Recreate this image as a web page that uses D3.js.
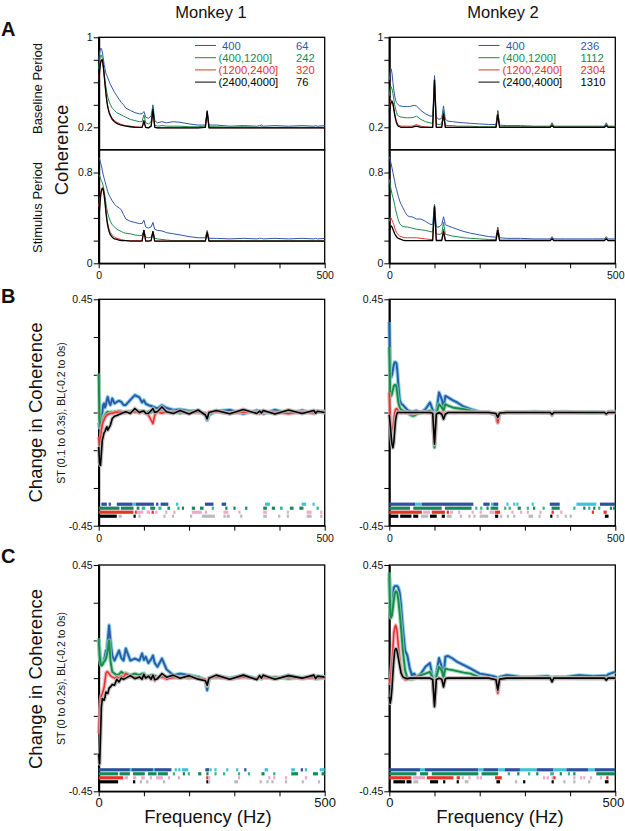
<!DOCTYPE html>
<html>
<head>
<meta charset="utf-8">
<script src="https://cdn.jsdelivr.net/npm/d3@7"></script>
<style>
body { margin: 0; background: #fff; }
svg text { font-family: Arial, "Liberation Sans", Helvetica, sans-serif; }
</style>
</head>
<body>
<svg id="chart" width="625" height="831"></svg>
<script>
////////////////////////////////////////////////////////////
//// Data //////////////////////////////////////////////////
////////////////////////////////////////////////////////////
const freqs = [0,2,4,6,8,10,12,14,16,18,
	20,23,26,30,35,40,45,50,55,60,
	70,80,90,96,100,104,110,116,120,124,
	130,140,150,165,180,200,220,236,240,244,
	260,290,320,350,356,360,364,390,420,450,
	476,480,484,500];

const legendLabels = ["400", "(400,1200]", "(1200,2400]", "(2400,4000]"];
const countsM1 = [64, 242, 320, 76];
const countsM2 = [236, 1112, 2304, 1310];

// coherence, monkey 1, baseline period (blue, green, red, black)
const baseM1 = [
	[0.80,0.86,0.90,0.90,0.87,0.82,0.76,0.72,0.68,0.66,0.64,0.61,0.58,0.55,0.51,0.48,0.45,0.42,0.40,0.37,0.35,0.33,0.32,0.32,0.34,0.29,0.28,0.30,0.40,0.26,0.24,0.25,0.24,0.25,0.245,0.23,0.22,0.22,0.35,0.22,0.22,0.21,0.215,0.21,0.215,0.22,0.21,0.215,0.21,0.215,0.21,0.215,0.21,0.215],
	[0.72,0.80,0.84,0.84,0.81,0.75,0.68,0.62,0.56,0.51,0.47,0.43,0.40,0.37,0.35,0.33,0.32,0.31,0.30,0.29,0.27,0.26,0.25,0.25,0.31,0.24,0.23,0.25,0.38,0.22,0.21,0.215,0.21,0.21,0.21,0.205,0.205,0.21,0.34,0.205,0.205,0.2,0.205,0.2,0.2,0.205,0.2,0.2,0.2,0.2,0.2,0.2,0.2,0.2],
	[0.62,0.72,0.78,0.80,0.79,0.74,0.66,0.58,0.50,0.44,0.39,0.34,0.31,0.28,0.26,0.245,0.235,0.225,0.22,0.215,0.21,0.205,0.2,0.2,0.24,0.2,0.195,0.21,0.33,0.2,0.195,0.195,0.195,0.195,0.195,0.195,0.195,0.2,0.33,0.195,0.195,0.195,0.195,0.195,0.195,0.195,0.195,0.195,0.195,0.195,0.195,0.195,0.195,0.195],
	[0.58,0.70,0.77,0.80,0.80,0.75,0.67,0.58,0.50,0.43,0.38,0.33,0.30,0.27,0.25,0.235,0.225,0.22,0.215,0.21,0.205,0.2,0.2,0.2,0.26,0.2,0.195,0.21,0.36,0.2,0.195,0.195,0.195,0.195,0.195,0.195,0.195,0.2,0.34,0.195,0.195,0.195,0.195,0.195,0.195,0.195,0.195,0.195,0.195,0.195,0.195,0.195,0.195,0.195]
];
// coherence, monkey 1, stimulus period
const stimM1 = [
	[0.93,0.92,0.89,0.86,0.82,0.78,0.75,0.72,0.69,0.66,0.63,0.60,0.58,0.55,0.52,0.50,0.49,0.47,0.43,0.39,0.37,0.36,0.35,0.35,0.38,0.32,0.31,0.32,0.36,0.30,0.29,0.285,0.27,0.26,0.25,0.235,0.225,0.225,0.29,0.22,0.22,0.215,0.22,0.215,0.22,0.22,0.215,0.22,0.215,0.22,0.215,0.22,0.215,0.22],
	[0.78,0.77,0.75,0.73,0.71,0.68,0.64,0.59,0.53,0.48,0.44,0.40,0.37,0.34,0.32,0.30,0.29,0.28,0.27,0.265,0.26,0.25,0.245,0.245,0.29,0.23,0.225,0.23,0.28,0.22,0.215,0.21,0.205,0.2,0.2,0.2,0.2,0.2,0.28,0.2,0.2,0.2,0.2,0.2,0.2,0.2,0.2,0.2,0.2,0.2,0.2,0.2,0.2,0.2],
	[0.50,0.55,0.61,0.65,0.67,0.66,0.62,0.55,0.47,0.40,0.35,0.30,0.27,0.25,0.23,0.22,0.215,0.21,0.205,0.2,0.2,0.2,0.2,0.2,0.29,0.2,0.195,0.2,0.28,0.195,0.195,0.195,0.195,0.195,0.195,0.195,0.195,0.195,0.28,0.195,0.195,0.195,0.195,0.195,0.195,0.195,0.195,0.195,0.195,0.195,0.195,0.195,0.195,0.195],
	[0.38,0.48,0.58,0.64,0.66,0.65,0.60,0.53,0.45,0.38,0.33,0.28,0.25,0.23,0.215,0.21,0.205,0.2,0.2,0.2,0.195,0.195,0.195,0.195,0.29,0.195,0.195,0.2,0.28,0.195,0.195,0.195,0.195,0.195,0.195,0.195,0.195,0.195,0.27,0.195,0.195,0.195,0.195,0.195,0.195,0.195,0.195,0.195,0.195,0.195,0.195,0.195,0.195,0.195]
];
// coherence, monkey 2, baseline period
const baseM2 = [
	[0.62,0.70,0.72,0.68,0.60,0.53,0.48,0.44,0.42,0.41,0.40,0.39,0.39,0.385,0.385,0.385,0.385,0.39,0.395,0.39,0.35,0.32,0.30,0.30,0.66,0.29,0.27,0.28,0.39,0.27,0.255,0.25,0.245,0.24,0.235,0.23,0.225,0.225,0.35,0.22,0.215,0.215,0.21,0.21,0.21,0.24,0.21,0.21,0.21,0.21,0.21,0.24,0.21,0.21],
	[0.48,0.54,0.56,0.54,0.50,0.45,0.40,0.36,0.33,0.31,0.30,0.295,0.29,0.29,0.285,0.285,0.285,0.285,0.29,0.30,0.27,0.25,0.24,0.235,0.63,0.23,0.225,0.23,0.35,0.22,0.215,0.215,0.21,0.21,0.21,0.205,0.205,0.205,0.34,0.205,0.205,0.205,0.205,0.205,0.205,0.23,0.205,0.205,0.205,0.205,0.205,0.23,0.205,0.205],
	[0.36,0.41,0.44,0.44,0.42,0.37,0.32,0.28,0.25,0.23,0.22,0.215,0.21,0.21,0.21,0.21,0.21,0.21,0.215,0.225,0.21,0.205,0.2,0.2,0.60,0.2,0.2,0.205,0.33,0.2,0.2,0.2,0.2,0.2,0.2,0.2,0.2,0.2,0.33,0.2,0.2,0.2,0.2,0.2,0.2,0.22,0.2,0.2,0.2,0.2,0.2,0.22,0.2,0.2],
	[0.33,0.39,0.42,0.43,0.41,0.36,0.31,0.27,0.24,0.22,0.21,0.205,0.2,0.2,0.2,0.2,0.2,0.2,0.205,0.21,0.2,0.2,0.2,0.2,0.62,0.2,0.2,0.2,0.32,0.2,0.2,0.2,0.2,0.2,0.2,0.2,0.2,0.2,0.31,0.2,0.2,0.2,0.2,0.2,0.2,0.215,0.2,0.2,0.2,0.2,0.2,0.215,0.2,0.2]
];
// coherence, monkey 2, stimulus period
const stimM2 = [
	[0.94,0.91,0.88,0.84,0.80,0.76,0.72,0.68,0.65,0.62,0.59,0.55,0.52,0.49,0.45,0.42,0.41,0.41,0.40,0.39,0.39,0.37,0.345,0.34,0.52,0.32,0.32,0.34,0.41,0.34,0.33,0.315,0.30,0.28,0.265,0.25,0.235,0.23,0.32,0.225,0.22,0.22,0.215,0.215,0.215,0.235,0.215,0.215,0.215,0.215,0.215,0.235,0.215,0.215],
	[0.74,0.69,0.65,0.61,0.58,0.55,0.51,0.47,0.44,0.41,0.38,0.35,0.335,0.325,0.32,0.32,0.315,0.31,0.305,0.30,0.295,0.29,0.28,0.275,0.52,0.26,0.255,0.26,0.36,0.255,0.25,0.24,0.235,0.225,0.22,0.215,0.21,0.21,0.30,0.205,0.205,0.205,0.205,0.205,0.205,0.225,0.205,0.205,0.205,0.205,0.205,0.225,0.205,0.205],
	[0.37,0.40,0.40,0.38,0.36,0.34,0.31,0.29,0.27,0.26,0.25,0.24,0.235,0.23,0.225,0.225,0.225,0.225,0.225,0.225,0.22,0.215,0.21,0.21,0.50,0.205,0.205,0.205,0.30,0.2,0.2,0.2,0.2,0.2,0.2,0.2,0.2,0.2,0.31,0.2,0.2,0.2,0.2,0.2,0.2,0.22,0.2,0.2,0.2,0.2,0.2,0.22,0.2,0.2],
	[0.29,0.32,0.33,0.32,0.30,0.28,0.26,0.245,0.235,0.225,0.22,0.215,0.21,0.205,0.2,0.2,0.2,0.2,0.2,0.2,0.2,0.2,0.2,0.2,0.50,0.2,0.2,0.2,0.28,0.2,0.2,0.2,0.2,0.2,0.2,0.2,0.2,0.2,0.29,0.2,0.2,0.2,0.2,0.2,0.2,0.215,0.2,0.2,0.2,0.2,0.2,0.215,0.2,0.2]
];
// change in coherence, ST (0.1 to 0.3s) - BL
const changeB1 = [
	[-0.04,-0.06,-0.05,-0.01,0.0,0.03,0.036,0.02,0.03,0.05,0.062,0.04,0.03,0.056,0.036,0.042,0.046,0.042,0.03,0.03,0.05,0.069,0.06,0.04,0.049,0.035,0.029,0.026,0.023,0.02,0.016,0.029,0.018,0.01,0.012,0.006,0.007,-0.01,-0.03,-0.01,0.005,0.01,-0.005,0.008,-0.004,0.006,-0.005,0.01,-0.004,0.008,-0.004,0.006,0.004,0.005],
	[0.155,-0.03,-0.057,-0.045,-0.035,-0.025,-0.017,-0.01,-0.004,0.0,0.003,-0.002,0.002,0.0,0.004,0.003,0.006,0.004,-0.002,0.003,0.005,0.001,0.006,0.003,0.005,-0.002,0.004,0.0,0.006,0.002,0.005,0.004,0.0,0.005,-0.003,0.004,0.0,-0.004,-0.015,0.0,0.004,-0.003,0.005,0.0,-0.003,0.002,0.004,-0.003,0.003,0.0,0.004,-0.002,0.002,0.0],
	[-0.097,-0.13,-0.11,-0.07,-0.05,-0.035,-0.03,-0.02,-0.015,-0.01,-0.008,-0.005,-0.004,-0.004,0.0,0.002,0.0,0.003,-0.003,0.0,0.002,0.004,-0.002,0.002,0.0,-0.003,-0.01,-0.03,-0.044,-0.01,0.002,-0.003,0.003,0.0,0.004,-0.003,0.002,-0.003,-0.02,0.0,0.003,-0.004,0.002,0.0,0.003,-0.003,0.002,0.0,-0.004,0.002,-0.002,0.0,0.003,0.0],
	[-0.137,-0.20,-0.21,-0.16,-0.11,-0.095,-0.08,-0.075,-0.065,-0.057,-0.07,-0.06,-0.05,-0.024,-0.015,-0.012,-0.008,-0.004,0.0,0.003,-0.004,0.016,0.0,0.005,0.006,-0.003,-0.004,0.008,0.016,0.0,0.004,0.022,0.003,-0.004,0.008,-0.006,0.01,-0.01,-0.025,0.0,0.008,-0.005,0.012,-0.004,0.006,-0.002,0.008,-0.006,0.01,-0.004,0.008,-0.003,0.005,0.0]
];
const changeB2 = [
	[0.36,0.16,0.14,0.15,0.17,0.19,0.2,0.2,0.195,0.16,0.11,0.05,0.035,0.03,0.02,0.01,0.005,0.002,0.004,0.007,0.0,0.013,0.04,0.01,-0.06,0.0,0.08,0.053,0.02,0.066,0.06,0.049,0.04,0.023,0.013,0.002,0.0,-0.01,-0.04,-0.005,0.002,0.0,0.003,0.001,0.0,-0.01,0.002,0.003,0.001,0.002,0.0,-0.005,0.003,0.004],
	[0.26,0.08,0.065,0.075,0.09,0.105,0.11,0.11,0.1,0.07,0.04,0.02,0.012,0.008,0.003,0.0,-0.008,-0.013,-0.013,-0.007,0.0,0.003,0.007,0.0,-0.139,-0.007,0.033,0.02,0.007,0.033,0.027,0.02,0.017,0.013,0.007,0.0,0.0,-0.005,-0.027,-0.003,0.0,0.002,0.0,-0.002,0.0,-0.005,0.0,0.002,0.0,-0.002,0.0,-0.004,0.0,0.002],
	[0.08,-0.03,-0.06,-0.07,-0.06,-0.03,0.0,0.012,0.015,0.012,0.005,0.0,-0.002,0.0,-0.002,0.0,-0.003,-0.004,-0.003,0.0,0.0,0.0,-0.002,-0.004,-0.126,-0.006,0.0,0.0,-0.013,0.0,0.0,0.0,0.0,0.0,0.0,0.0,0.0,-0.005,-0.04,-0.003,0.0,0.0,0.0,0.0,0.0,-0.008,0.0,0.0,0.0,0.0,0.0,-0.006,0.0,0.0],
	[-0.01,-0.05,-0.09,-0.125,-0.14,-0.12,-0.07,-0.03,-0.01,0.0,0.0,0.0,0.0,0.0,0.0,0.0,0.0,0.0,0.0,0.0,0.0,0.0,0.0,-0.003,-0.126,-0.007,0.0,-0.007,-0.027,-0.007,0.0,0.0,0.0,0.0,0.0,0.0,0.0,-0.004,-0.02,-0.002,0.0,0.0,0.0,0.0,0.0,-0.008,0.0,0.0,0.0,0.0,0.0,-0.006,0.0,0.0]
];
// change in coherence, ST (0 to 0.2s) - BL
const changeC1 = [
	[0.151,0.11,0.072,0.06,0.058,0.06,0.072,0.09,0.11,0.11,0.15,0.21,0.15,0.09,0.07,0.09,0.11,0.08,0.07,0.118,0.07,0.078,0.07,0.098,0.072,0.085,0.06,0.075,0.09,0.06,0.045,0.078,0.035,0.012,0.018,0.012,0.005,-0.01,-0.048,0.0,0.01,0.0,0.012,-0.003,0.008,0.0,0.01,-0.004,0.012,0.0,0.01,-0.002,0.008,0.005],
	[0.158,0.09,0.058,0.05,0.052,0.06,0.065,0.07,0.078,0.09,0.11,0.15,0.07,0.025,0.018,0.012,0.015,0.025,0.018,0.019,0.012,0.018,0.012,0.018,0.019,0.01,0.008,0.012,0.005,0.01,0.004,0.003,0.006,0.002,0.005,0.0,0.004,-0.006,-0.03,0.0,0.003,-0.002,0.004,0.0,0.003,-0.003,0.002,0.004,-0.002,0.003,0.0,0.004,-0.002,0.002],
	[-0.22,-0.16,-0.088,-0.07,-0.061,-0.05,-0.035,-0.01,0.019,0.025,0.025,0.018,0.01,0.005,0.0,0.005,0.0,0.008,0.002,0.019,0.005,0.005,0.0,0.006,0.01,0.0,0.005,-0.005,0.004,-0.01,0.003,0.006,-0.004,0.004,0.0,0.006,-0.003,-0.005,-0.03,0.0,0.006,-0.004,0.005,-0.003,0.004,0.0,0.004,-0.003,0.006,-0.002,0.004,0.0,0.003,0.0],
	[-0.30,-0.34,-0.234,-0.114,-0.081,-0.085,-0.088,-0.075,-0.055,-0.06,-0.061,-0.04,-0.035,-0.025,-0.028,-0.005,-0.015,0.0,-0.005,0.0,0.01,-0.002,0.005,-0.004,0.015,0.0,0.008,-0.004,0.012,-0.006,-0.002,0.018,0.004,0.012,0.0,0.01,-0.004,-0.01,-0.028,0.0,0.012,-0.004,0.012,-0.006,0.01,0.0,0.012,-0.004,0.01,0.0,0.012,-0.002,0.008,0.004]
];
const changeC2 = [
	[0.40,0.30,0.265,0.28,0.32,0.36,0.366,0.366,0.366,0.366,0.36,0.34,0.29,0.20,0.11,0.09,0.04,0.012,0.018,0.005,0.018,0.045,0.06,0.0,-0.088,0.018,0.08,0.045,0.005,0.085,0.088,0.078,0.065,0.052,0.038,0.018,0.012,0.005,-0.015,0.005,0.012,0.005,0.005,0.008,0.005,-0.008,0.005,0.005,0.012,0.008,0.01,0.005,0.015,0.025],
	[0.42,0.26,0.24,0.25,0.28,0.31,0.335,0.345,0.345,0.335,0.31,0.26,0.2,0.11,0.03,0.0,-0.004,-0.005,-0.002,0.005,0.012,0.018,0.025,0.0,-0.074,0.005,0.045,0.03,0.005,0.038,0.035,0.032,0.028,0.022,0.018,0.003,0.0,-0.005,-0.035,0.0,0.0,0.0,0.002,0.0,0.0,-0.005,0.0,0.002,0.0,0.0,0.0,0.0,0.002,0.004],
	[0.0,-0.02,0.02,0.06,0.12,0.18,0.2,0.21,0.2,0.17,0.13,0.08,0.03,0.005,-0.006,-0.005,-0.003,0.0,0.0,0.003,0.0,0.0,0.0,-0.005,-0.10,-0.005,0.0,-0.004,-0.022,-0.003,0.0,0.0,0.0,0.0,0.0,0.0,0.0,-0.005,-0.06,-0.004,0.0,0.0,0.0,0.0,0.0,-0.008,0.0,0.0,0.0,0.0,0.0,-0.005,0.0,0.0],
	[-0.074,-0.10,-0.08,-0.04,0.02,0.07,0.11,0.118,0.115,0.1,0.08,0.05,0.02,0.005,0.0,-0.002,0.0,0.0,0.0,0.0,0.0,0.0,0.0,-0.005,-0.114,-0.005,0.0,-0.004,-0.035,-0.002,0.0,0.0,0.0,0.0,0.0,0.0,0.0,-0.006,-0.048,-0.004,0.0,0.0,0.0,0.0,0.0,-0.015,0.0,0.0,0.0,0.0,0.0,-0.008,0.0,0.0]
];

// significance bins per row: [fromHz, toHz, level] (1 = strong, 2 = weak)
const sigB1 = [
	[[6,18,1],[22,27,1],[40,75,1],[76,82,2],[82,122,1],[127,132,1],[137,154,1],[171,176,2],[235,254,1],[272,282,1],[368,379,2],[449,459,2],[473,477,2]],
	[[0,46,1],[49,77,1],[84,90,1],[95,103,2],[114,125,1],[132,139,2],[152,158,1],[174,178,2],[184,188,1],[206,213,1],[224,232,1],[250,254,2],[280,284,1],[298,302,1],[324,328,1],[364,372,1],[383,390,1],[401,407,2],[423,431,1],[444,453,1],[482,486,2]],
	[[0,77,1],[80,84,1],[84,99,2],[106,114,2],[117,121,1],[125,128,2],[147,151,2],[165,169,2],[206,228,2],[235,239,2],[276,287,2],[309,313,2],[364,372,2],[416,420,2],[460,471,2],[490,494,2]],
	[[0,40,1],[44,51,2],[77,80,1],[88,92,2],[143,147,2],[162,166,2],[202,206,2],[228,257,2],[276,280,2],[283,290,2],[313,317,2],[364,372,2],[397,401,2],[416,420,2],[460,471,2],[490,494,2]]
];
const sigB2 = [
	[[0,57,1],[57,70,2],[71,186,1],[208,222,1],[225,229,2],[230,241,1],[259,263,2],[274,278,2],[281,285,2],[315,319,2],[355,377,1],[414,458,2],[466,500,1]],
	[[0,46,1],[53,116,1],[123,182,1],[190,194,2],[201,205,2],[215,219,1],[224,241,1],[254,258,2],[264,268,2],[284,291,1],[304,308,2],[318,322,1],[339,343,2],[359,377,1],[407,411,2],[429,433,1],[440,444,2],[451,455,1],[462,466,2],[488,492,1],[495,500,1]],
	[[0,72,1],[75,90,2],[94,123,1],[127,131,1],[134,141,2],[152,156,2],[182,186,2],[200,204,2],[222,233,2],[234,245,1],[270,274,2],[289,293,2],[304,308,2],[332,336,2],[359,363,1],[378,382,2],[448,452,1],[474,481,1]],
	[[0,20,1],[24,49,1],[53,64,1],[70,86,2],[90,105,1],[116,123,1],[127,138,2],[156,160,2],[175,179,2],[186,190,2],[200,219,2],[234,241,1],[245,249,2],[260,264,2],[274,278,2],[308,318,2],[330,334,2],[356,360,1],[370,374,2],[388,392,2],[399,403,2],[477,485,1]]
];
const sigC1 = [
	[[0,69,1],[69,73,2],[73,120,1],[120,124,2],[124,161,1],[168,172,2],[176,180,2],[184,198,2],[236,244,1],[245,249,2],[256,260,2],[282,286,2],[304,308,2],[322,326,1],[367,375,2],[426,434,2],[447,451,1],[456,460,2],[489,500,2]],
	[[0,43,1],[46,69,1],[76,102,1],[109,128,1],[131,153,1],[164,168,2],[186,190,1],[197,201,2],[220,227,1],[238,243,1],[256,260,2],[275,279,2],[308,312,2],[330,334,2],[360,367,1],[386,390,2],[426,441,1],[474,485,1],[493,500,1]],
	[[0,54,1],[57,65,2],[76,83,2],[94,102,2],[113,117,2],[127,142,2],[153,157,2],[175,179,2],[238,242,1],[242,246,2],[308,312,2],[375,379,2],[386,390,2],[412,416,2],[456,460,2]],
	[[0,43,1],[76,80,1],[91,95,2],[105,109,2],[142,147,2],[238,242,1],[242,246,2],[300,308,2],[356,360,2],[371,375,2],[382,386,2],[412,416,2],[449,453,2],[485,489,2]]
];
const sigC2 = [
	[[0,68,1],[68,79,2],[79,197,1],[197,208,2],[208,241,1],[241,256,2],[256,289,1],[289,326,2],[326,363,1],[363,392,2],[392,440,1],[440,455,2],[455,500,1]],
	[[0,60,1],[68,86,1],[94,197,1],[204,241,1],[262,266,2],[283,287,1],[307,311,2],[325,329,1],[356,364,2],[377,381,1],[395,399,2],[407,411,1],[458,500,1]],
	[[0,49,1],[52,79,2],[83,142,1],[149,156,1],[160,164,2],[175,179,2],[193,197,2],[200,204,2],[234,249,1],[340,344,2],[348,352,2],[359,363,2],[363,367,1],[407,411,2],[422,426,2],[429,433,2],[444,448,2],[466,470,2],[480,484,1]],
	[[9,35,1],[38,49,1],[53,64,2],[90,108,1],[119,123,1],[149,153,1],[167,175,2],[237,245,1],[278,282,2],[296,300,1],[359,363,1],[385,389,2],[407,411,2],[440,444,2],[477,485,1]]
];

////////////////////////////////////////////////////////////
//// Setup /////////////////////////////////////////////////
////////////////////////////////////////////////////////////
const svg = d3.select("#chart");
const lineColors = ["#3257a6", "#178b4b", "#e5332a", "#000000"];
const bandColors = ["#66c8e2", "#8ad2a8", "#f5a6b6", "#b4b4b4"];
const sigStrong = ["#2f4f9f", "#138a57", "#e5332a", "#000000"];
const sigWeak = ["#3fc3d4", "#35b887", "#efa9cb", "#bbbbbb"];

const columns = [[98.7, 324.7], [389.3, 615.3]];

function drawPanel(opts) {
	const x = d3.scaleLinear().domain([0, 500]).range(opts.xr);
	const y = d3.scaleLinear().domain(opts.domain).range([opts.bottom, opts.top]);
	const g = svg.append("g");

	// frame
	g.append("rect")
		.attr("x", opts.xr[0]).attr("y", opts.top)
		.attr("width", opts.xr[1] - opts.xr[0]).attr("height", opts.bottom - opts.top)
		.attr("fill", "none").attr("stroke", "#000").attr("stroke-width", 1.3);

	// y axis
	g.append("g")
		.attr("transform", `translate(${opts.xr[0]},0)`)
		.call(d3.axisLeft(y).tickValues(opts.ticks).tickSize(5).tickSizeOuter(0)
			.tickFormat(d => opts.labels.includes(d) ? String(d) : ""))
		.call(a => a.select(".domain").attr("stroke-width", 2))
		.call(a => a.selectAll(".tick line").attr("stroke-width", 1))
		.call(a => a.selectAll("text").attr("font-size", 10.5).attr("fill", "#111").attr("x", -6));

	// x axis
	if (opts.xAxis) {
		g.append("g")
			.attr("transform", `translate(0,${opts.xAxis.y})`)
			.call(d3.axisBottom(x).tickValues([0, 100, 200, 300, 400, 500]).tickSize(5).tickSizeOuter(0)
				.tickFormat(d => (d === 0 || d === 500) ? d : ""))
			.call(a => a.select(".domain").attr("stroke-width", 1.3))
			.call(a => a.selectAll("text").attr("font-size", opts.xAxis.size).attr("fill", "#111")
				.attr("y", opts.xAxis.labelDy).attr("dy", 0))
			.call(a => a.selectAll(".tick text").filter(d => d === 500).attr("dx", opts.xAxis.endShift || 0));
	}

	const line = d3.line()
		.x((d, i) => x(freqs[i]))
		.y(d => y(d));

	// significance rows
	if (opts.sig) {
		const rowOffsets = [-21.5, -17.5, -13.5, -9.5];
		opts.sig.forEach((row, r) => {
			g.selectAll(null)
				.data(row)
				.join("rect")
				.attr("x", d => x(d[0]))
				.attr("width", d => Math.max(x(d[1]) - x(d[0]), 2.2))
				.attr("y", opts.bottom + rowOffsets[r] - 1.6)
				.attr("height", 3.2)
				.attr("fill", d => d[2] === 1 ? sigStrong[r] : sigWeak[r]);
		});
	}

	opts.series.forEach((values, s) => {
		if (opts.thick) {
			g.append("path")
				.attr("d", line(values))
				.attr("fill", "none")
				.attr("stroke", bandColors[s])
				.attr("stroke-width", 4)
				.attr("stroke-linejoin", "round")
				.attr("opacity", 0.8);
		}
		g.append("path")
			.attr("d", line(values))
			.attr("fill", "none")
			.attr("stroke", lineColors[s])
			.attr("stroke-width", opts.thick ? (s < 2 ? 1.9 : 1.6) : (s === 3 ? 1.3 : 1))
			.attr("stroke-linejoin", "round");
	});
}

////////////////////////////////////////////////////////////
//// Render ////////////////////////////////////////////////
////////////////////////////////////////////////////////////
const aTicks = [1, 0.8, 0.6, 0.4, 0.2];
const aTicksLow = [0.8, 0.6, 0.4, 0.2, 0];
const dTicks = [0.45, 0.3, 0.15, 0, -0.15, -0.3, -0.45];

[[baseM1, stimM1, changeB1, changeC1, sigB1, sigC1], [baseM2, stimM2, changeB2, changeC2, sigB2, sigC2]]
	.forEach(([base, stim, chB, chC, sB, sC], c) => {
		const xr = columns[c];
		drawPanel({ xr, top: 37.3, bottom: 149.8, domain: [0, 1], ticks: aTicks, labels: [1, 0.2], series: base });
		drawPanel({ xr, top: 149.8, bottom: 263.3, domain: [0, 1], ticks: aTicksLow, labels: [0.8, 0],
			series: stim, xAxis: { y: 263.3, size: 10.5, labelDy: 16 } });
		drawPanel({ xr, top: 299.3, bottom: 525.7, domain: [-0.45, 0.45], ticks: dTicks, labels: [0.45, -0.45],
			series: chB, thick: true, sig: sB, xAxis: { y: 525.7, size: 10.5, labelDy: 16 } });
		drawPanel({ xr, top: 565, bottom: 791.3, domain: [-0.45, 0.45], ticks: dTicks, labels: [0.45, -0.45],
			series: chC, thick: true, sig: sC,
			xAxis: { y: 791.3, size: 13, labelDy: 16, endShift: c === 1 ? -2.5 : 0 } });
	});

// legends
function legend(x0, textX, numX, counts) {
	const rows = [45.5, 57.7, 69.9, 82.1];
	legendLabels.forEach((label, i) => {
		svg.append("line")
			.attr("x1", x0).attr("x2", x0 + 21)
			.attr("y1", rows[i]).attr("y2", rows[i])
			.attr("stroke", lineColors[i]).attr("stroke-width", 1);
		svg.append("text")
			.attr("x", textX + (i === 0 ? 3.5 : 0)).attr("y", rows[i] + 4)
			.attr("font-size", 11.2).attr("fill", lineColors[i])
			.text(label);
		svg.append("text")
			.attr("x", numX).attr("y", rows[i] + 4)
			.attr("font-size", 11.2).attr("fill", lineColors[i])
			.text(counts[i]);
	});
}
legend(195, 218.5, 296, countsM1);
legend(478.5, 502.5, 580.5, countsM2);

// titles and labels
function text(x, y, str, size, opts = {}) {
	const t = svg.append("text")
		.attr("x", x).attr("y", y)
		.attr("font-size", size)
		.attr("text-anchor", opts.anchor || "middle")
		.attr("font-weight", opts.bold ? "bold" : null)
		.attr("fill", "#111")
		.text(str);
	if (opts.rotate) t.attr("transform", `rotate(-90,${x},${y})`);
	return t;
}
text(211, 18, "Monkey 1", 16.5);
text(503, 18, "Monkey 2", 16.5);
text(1, 36, "A", 20, { anchor: "start", bold: true });
text(1, 303, "B", 20, { anchor: "start", bold: true });
text(1, 563, "C", 20, { anchor: "start", bold: true });

text(68, 150, "Coherence", 18.5, { rotate: true });
text(42, 88.5, "Baseline Period", 13, { rotate: true });
text(42, 207.5, "Stimulus Period", 13, { rotate: true });

text(42, 412.5, "Change in Coherence", 18.5, { rotate: true });
text(65, 413, "ST (0.1 to 0.3s), BL(-0.2 to 0s)", 10.5, { rotate: true });
text(42, 679, "Change in Coherence", 18.5, { rotate: true });
text(65, 678.5, "ST (0 to 0.2s), BL(-0.2 to 0s)", 10.5, { rotate: true });

text(208, 823, "Frequency (Hz)", 18.5);
text(500, 823, "Frequency (Hz)", 18.5);
</script>
</body>
</html>
